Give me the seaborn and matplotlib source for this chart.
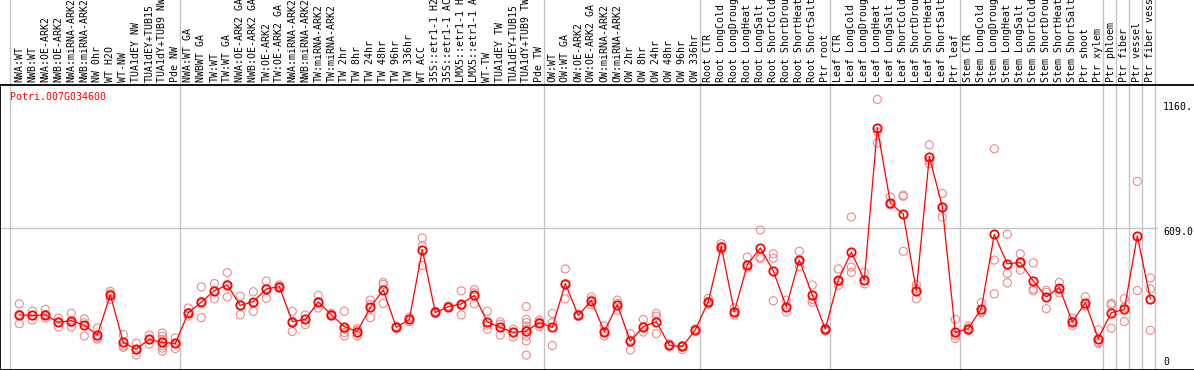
import numpy as np
import pandas as pd
import matplotlib
matplotlib.use("Agg")
import matplotlib.pyplot as plt
import seaborn as sns

# ---------------- data ----------------
gene_name = "Potri.007G034600"

labels_nw = ["NWA:WT", "NWB:WT", "NWA:OE-ARK2", "NWB:OE-ARK2", "NWA:miRNA-ARK2",
             "NWB:miRNA-ARK2", "NW 0hr", "WT H2O", "WT-NW", "TUA1dEY NW",
             "TUA1dEY+TUB15", "TUA1dY+TUB9 NW", "Pde NW"]
labels_tw = ["NWA:WT GA", "NWBWT GA", "TW:WT", "TW:WT GA", "NWA:OE-ARK2 GA",
             "NWB:OE-ARK2 GA", "TW:OE-ARK2", "TW:OE-ARK2 GA", "NWA:miRNA-ARK2",
             "NWB:miRNA-ARK2", "TW:miRNA-ARK2", "TW:miRNA-ARK2", "TW 2hr", "TW 8hr",
             "TW 24hr", "TW 48hr", "TW 96hr", "TW 336hr", "WT ACC", "35S::etr1-1 H2",
             "35S::etr1-1 AC", "LMX5::etr1-1 H", "LMX5::etr1-1 A", "WT-TW",
             "TUA1dEY TW", "TUA1dEY+TUB15", "TUA1dY+TUB9 TW", "Pde TW"]
labels_ow = ["OW:WT", "OW:WT GA", "OW:OE-ARK2", "OW:OE-ARK2 GA", "OW:miRNA-ARK2",
             "OW:miRNA-ARK2", "OW 2hr", "OW 8hr", "OW 24hr", "OW 48hr", "OW 96hr",
             "OW 336hr"]
labels_root = ["Root CTR", "Root LongCold", "Root LongDroug", "Root LongHeat",
               "Root LongSalt", "Root ShortCold", "Root ShortDrou", "Root ShortHeat",
               "Root ShortSalt", "Ptr root"]
labels_leaf = ["Leaf CTR", "Leaf LongCold", "Leaf LongDroug", "Leaf LongHeat",
               "Leaf LongSalt", "Leaf ShortCold", "Leaf ShortDrou", "Leaf ShortHeat",
               "Leaf ShortSalt", "Ptr leaf"]
labels_stem = ["Stem CTR", "Stem LongCold", "Stem LongDroug", "Stem LongHeat",
               "Stem LongSalt", "Stem ShortCold", "Stem ShortDrou", "Stem ShortHeat",
               "Stem ShortSalt", "Ptr shoot", "Ptr xylem"]
labels_phloem = ["Ptr phloem"]
labels_fiber = ["Ptr fiber"]
labels_vessel = ["Ptr vessel"]
labels_fibervessel = ["Ptr fiber vess"]

groups = [labels_nw, labels_tw, labels_ow, labels_root, labels_leaf, labels_stem,
          labels_phloem, labels_fiber, labels_vessel, labels_fibervessel]
sample_labels = [s for g in groups for s in g]

mean_values = [235, 232, 235, 203, 210, 190, 148, 321, 116, 87, 130, 116, 112,
               244, 289, 339, 363, 275, 292, 346, 356, 206, 215, 291, 235, 184, 163,
               267, 342, 181, 215, 514, 245, 270, 282, 318, 204, 181, 160, 165, 201,
               181, 369, 232, 296, 163, 278, 122, 184, 206, 104, 99, 170,
               292, 528, 248, 450, 522, 423, 270, 470, 321, 173,
               385, 504, 385, 1037, 716, 666, 338, 914, 700, 159,
               176, 261, 581, 454, 460, 380, 312, 352, 204, 287, 133,
               244, 258, 574, 304]

replicate_values = [
    [282, 237, 197], [251, 232, 212], [258, 237, 221], [221, 203, 183],
    [241, 201, 183], [218, 201, 144], [178, 137, 130], [336, 326, 301],
    [150, 102, 95], [113, 83, 62], [148, 128, 109],
    [157, 143, 130, 117, 102, 92, 79], [136, 113, 90],
    [264, 245, 229], [355, 292, 223], [369, 339, 304], [416, 365, 312],
    [315, 275, 235], [334, 288, 250], [380, 348, 306], [356, 363, 350],
    [250, 207, 163], [234, 215, 193], [318, 292, 264], [235, 241, 230],
    [250, 173, 159, 144], [176, 168, 144], [298, 279, 223], [374, 365, 284],
    [181, 186, 177], [225, 215, 206], [565, 531, 447], [245, 250, 241],
    [270, 273, 267], [338, 274, 235], [343, 329, 282], [250, 190, 173],
    [204, 194, 148], [173, 160, 139],
    [270, 215, 201, 187, 173, 144, 123, 62], [212, 203, 184],
    [241, 201, 103], [432, 369, 304], [232, 237, 228], [312, 299, 279],
    [187, 164, 144], [298, 284, 254], [154, 126, 84], [215, 184, 161],
    [241, 229, 154], [104, 109, 100], [102, 96, 86], [170, 175, 166],
    [305, 292, 281], [540, 528, 514], [265, 248, 234], [483, 450, 436],
    [599, 483, 476], [497, 478, 295], [298, 267, 247], [508, 463, 443],
    [363, 301, 289], [173, 177, 166],
    [432, 377, 362], [655, 440, 417], [417, 382, 368], [1160, 1021, 973],
    [741, 714, 706], [749, 744, 508], [365, 348, 304], [965, 898, 884],
    [756, 697, 655], [215, 147, 133],
    [186, 176, 168], [287, 244, 250], [948, 470, 325], [581, 412, 372],
    [497, 427, 454], [458, 346, 338], [340, 331, 261], [374, 329, 343],
    [221, 207, 189], [312, 275, 273], [170, 117, 112],
    [284, 277, 177], [304, 267, 206], [808, 339], [393, 346, 168],
]

ytick_values = [0, 609.0, 1160]
ytick_texts = ["0", "609.0", "1160."]

# ---------------- frames ----------------
n = len(sample_labels)
pos = np.arange(n)
df_mean = pd.DataFrame({"pos": pos, "value": mean_values, "sample": sample_labels})
rep_rows = [(i, v) for i, reps in enumerate(replicate_values) for v in reps]
df_rep = pd.DataFrame(rep_rows, columns=["pos", "value"])

# ---------------- figure ----------------
W, H = 1194, 370
fig = plt.figure(figsize=(W / 100, H / 100), dpi=100)
fig.patch.set_facecolor("white")

x0_px, step_px = 19.3, 13.0
xlim = (-x0_px / step_px, (W - x0_px) / step_px)

mono = "DejaVu Sans Mono"
grid_col = "#c4c4c4"

# background axes for full-height vertical separators
bg = fig.add_axes([0, 0, 1, 1])
bg.set_xlim(*xlim)
bg.set_ylim(0, 1)
bg.axis("off")
bounds = [-0.72] + list(np.cumsum([len(g) for g in groups]) - 1 + 0.38)
for b in bounds:
    bg.axvline(b, color=grid_col, lw=1.0, zorder=0)

# main plot axes
top_px, bot_px = 85, 369.5
ax = fig.add_axes([0, (H - bot_px) / H, 1, (bot_px - top_px) / H])
ax.set_facecolor("none")
ax.set_xlim(*xlim)
ax.set_ylim(0, 1222)

ax.axhline(609.0, xmin=0, xmax=1157 / W, color=grid_col, lw=1.0, zorder=1)

sns.scatterplot(data=df_rep, x="pos", y="value", ax=ax, marker="o", s=34,
                facecolors="none", edgecolor="#ec8a8a", linewidth=0.8,
                zorder=2, legend=False)
sns.lineplot(data=df_mean, x="pos", y="value", ax=ax, color="#ff0000", lw=0.9,
             marker="o", markersize=6.0, markerfacecolor="none",
             markeredgecolor="#ff0000", markeredgewidth=1.3, zorder=3,
             legend=False)

ax.xaxis.tick_top()
ax.set_xticks(pos)
ax.set_xticklabels(sample_labels, rotation=90, fontfamily=mono, fontsize=7.1,
                   color="black")
ax.tick_params(axis="x", length=0, pad=2.2)
ax.set_yticks([])
ax.set_xlabel("")
ax.set_ylabel("")
for side in ["top", "bottom", "left"]:
    ax.spines[side].set_color("black")
    ax.spines[side].set_linewidth(1.3)
ax.spines["right"].set_visible(False)

# y value labels at the right, inside the frame
ylab_px = {"0": 361.7, "609.0": 232.3, "1160.": 107.3}
for v, t in zip(ytick_values, ytick_texts):
    fig.text(1163 / W, 1 - ylab_px[t] / H, t, ha="left", va="center",
             fontfamily=mono, fontsize=7.1, color="black")

fig.text(10 / W, 1 - 97 / H, gene_name, ha="left", va="center",
         fontfamily=mono, fontsize=7.1, color="#ff0000")

fig.savefig("out.png", dpi=100)
